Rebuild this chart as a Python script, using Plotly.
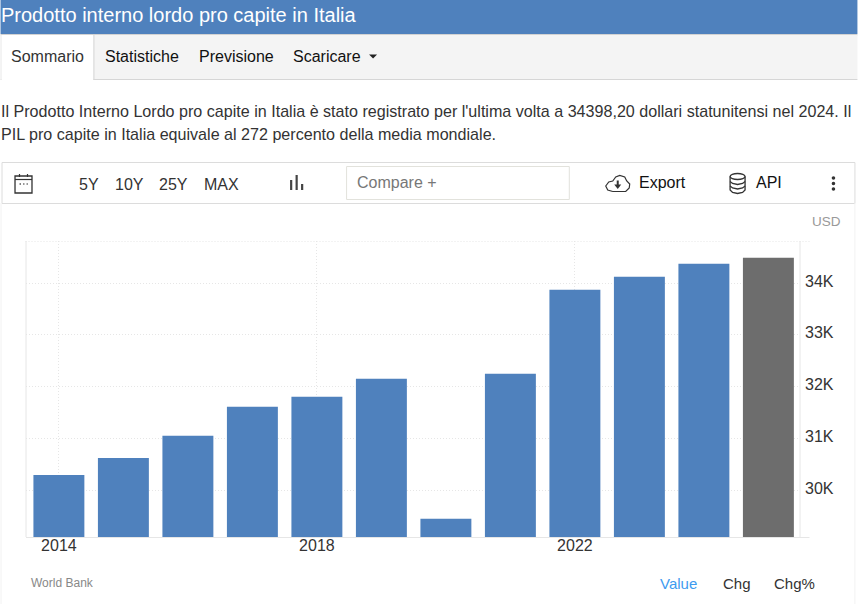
import plotly.graph_objects as go

W, H = 858, 604
L, R, T, B = 25.5, 800.5, 241, 537

years = [2014, 2015, 2016, 2017, 2018, 2019, 2020, 2021, 2022, 2023, 2024, 2025]
values = [30296, 30624, 31050, 31610, 31803, 32150, 29450, 32247, 33870, 34122, 34373, 34489]
y_ticks = [30000, 31000, 32000, 33000, 34000]
y_labels = ["30K", "31K", "32K", "33K", "34K"]
x_ticks = [2014, 2018, 2022]

BLUE = "#4f81bd"
GREY = "#6d6d6d"
LINE = "#e6e6e6"
FONT = "Liberation Sans"
DOT = "1px,2px"


# paper coordinates are relative to the plot area, so convert from page pixels
def px(x):
    return (x - L) / (R - L)


def py(y):
    return (B - y) / (B - T)


def rect(x0, y0, x1, y1, fill=None, line=None, width=1):
    return dict(type="rect", xref="paper", yref="paper", x0=px(x0), x1=px(x1), y0=py(y0), y1=py(y1),
                fillcolor=fill or "rgba(0,0,0,0)", line=dict(color=line or "rgba(0,0,0,0)", width=width if line else 0),
                layer="below")


def seg(x0, y0, x1, y1, color, width=1, layer="above", dash="solid"):
    return dict(type="line", xref="paper", yref="paper", x0=px(x0), x1=px(x1), y0=py(y0), y1=py(y1),
                line=dict(color=color, width=width, dash=dash), layer=layer)


def circle(cx, cy, rx, ry, fill=None, line=None, width=1.3):
    return dict(type="circle", xref="paper", yref="paper", x0=px(cx - rx), x1=px(cx + rx), y0=py(cy - ry), y1=py(cy + ry),
                fillcolor=fill or "rgba(0,0,0,0)", line=dict(color=line or "rgba(0,0,0,0)", width=width if line else 0))


def path(points, fill=None, line=None, width=1.3, close=False):
    d = " ".join(("M" if i == 0 else "L") + " %.5f %.5f" % (px(x), py(y)) for i, (x, y) in enumerate(points))
    if close:
        d += " Z"
    return dict(type="path", xref="paper", yref="paper", path=d,
                fillcolor=fill or "rgba(0,0,0,0)", line=dict(color=line or "rgba(0,0,0,0)", width=width if line else 0))


def label(x, y, text, size, color="#333333", anchor="left"):
    # annotations sit slightly right of and below the asked position
    return dict(xref="paper", yref="paper", x=px(max(x - 0.5, 0)), y=py(y - 0.5), text=text, showarrow=False,
                xanchor=anchor, yanchor="middle", align="left", font=dict(family=FONT, size=size, color=color),
                borderpad=0, borderwidth=0)


shapes = [
    # header and tab strip
    rect(0, 0, W, 34, fill=BLUE),
    rect(0, 34, W, 35.5, fill="#d2d2d2"),
    rect(0, 35, W, 79, fill="#f4f4f4"),
    rect(0, 79, W, 80, fill="#d6d6d6"),
    rect(1, 35, 93, 80, fill="#ffffff"),
    seg(93.5, 35, 93.5, 80, "#d6d6d6", layer="below"),
    seg(0.5, 35, 0.5, 80, "#eeeeee", layer="below"),
    # toolbar
    rect(1.5, 162.5, 855.5, 203.5, line="#dcdcdc"),
    rect(346.5, 166.5, 569.5, 199.5, line="#e2e2dc"),
    seg(0.5, 203, 0.5, H, "#f2f2f2", layer="below"),
    seg(855.5, 203, 855.5, H, "#f2f2f2", layer="below"),
    # axis frame
    seg(800.5, 241, 800.5, 537, LINE, layer="below"),
    seg(25.5, 537.5, 810, 537.5, LINE, layer="below"),
    seg(25.5, 241, 25.5, 537, LINE, layer="below"),
    seg(25, 241.5, 810, 241.5, LINE, layer="below", dash=DOT),
    # caret
    path([(369, 54.5), (377, 54.5), (373, 58.5)], fill="#222222", close=True),
    # calendar icon
    rect(14.5, 176, 31.5, 193, line="#333333", width=1.3),
    seg(14.5, 179.5, 31.5, 179.5, "#333333", 1.2),
    seg(19, 174, 19, 177, "#333333", 1.2),
    seg(27, 174, 27, 177, "#333333", 1.2),
    seg(19, 184, 20.5, 184, "#333333", 1.2),
    seg(22.5, 184, 24, 184, "#333333", 1.2),
    seg(26, 184, 27.5, 184, "#333333", 1.2),
    # bar icon
    seg(291, 180, 291, 190, "#444444", 2.2),
    seg(296.5, 175, 296.5, 190, "#444444", 2.2),
    seg(302, 184, 302, 190, "#444444", 2.2),
    # cloud icon
    path([(613, 191.5), (608, 190), (606, 186), (609, 182), (613, 181), (616, 177), (620, 175.5), (625, 177),
          (627, 181), (630, 184), (629.5, 188), (626, 191.5), (613, 191.5)], line="#333333", width=1.2),
    path([(614.5, 184.5), (621.5, 184.5), (618, 189)], fill="#333333", close=True),
    seg(618, 180.5, 618, 185, "#333333", 2),
    # database icon
    circle(738, 176.5, 7.5, 3, line="#333333"),
    path([(730.5, 176.5), (730.5, 190), (733, 192.5), (738, 193.5), (743, 192.5), (745.5, 190), (745.5, 176.5)],
         line="#333333"),
    path([(730.5, 181.5), (733, 183.5), (738, 184.5), (743, 183.5), (745.5, 181.5)], line="#333333"),
    path([(730.5, 186), (733, 188), (738, 189), (743, 188), (745.5, 186)], line="#333333"),
    # kebab menu
    circle(834, 178, 1.8, 1.8, fill="#333333"),
    circle(834, 183.5, 1.8, 1.8, fill="#333333"),
    circle(834, 189, 1.8, 1.8, fill="#333333"),
]

annotations = [
    label(0, 15.5, "Prodotto interno lordo pro capite in Italia", 20, "#ffffff"),
    label(11, 56.5, "Sommario", 16, "#333333"),
    label(105, 56.5, "Statistiche", 16, "#111111"),
    label(199, 56.5, "Previsione", 16, "#111111"),
    label(293, 56.5, "Scaricare", 16, "#111111"),
    label(0, 111.5, "Il Prodotto Interno Lordo pro capite in Italia è stato registrato per l'ultima volta a 34398,20 dollari statunitensi nel 2024. Il", 16.1, "#333333"),
    label(0, 134.5, "PIL pro capite in Italia equivale al 272 percento della media mondiale.", 16.1, "#333333"),
    label(79, 184.5, "5Y", 16, "#333333"),
    label(115, 184.5, "10Y", 16, "#333333"),
    label(159, 184.5, "25Y", 16, "#333333"),
    label(204, 184.5, "MAX", 16, "#333333"),
    label(357, 183, "Compare +", 16, "#777777"),
    label(640, 183.5, "Export", 16, "#111111"),
    label(757, 183.5, "API", 16, "#111111"),
    label(813.5, 222, "USD", 13.5, "#999999"),
    label(31, 583.5, "World Bank", 12, "#888888"),
    label(661, 584, "Value", 15, "#3d9bf0"),
    label(724, 584, "Chg", 15, "#333333"),
    label(775, 584, "Chg%", 15, "#333333"),
]

colors = [BLUE] * (len(years) - 1) + [GREY]

fig = go.Figure(go.Bar(x=years, y=values, marker=dict(color=colors, line=dict(width=0)), width=0.79))

fig.update_layout(
    width=W,
    height=H,
    margin=dict(l=L, r=W - R, t=T, b=H - B),
    paper_bgcolor="#ffffff",
    plot_bgcolor="#ffffff",
    showlegend=False,
    shapes=shapes,
    annotations=annotations,
    font=dict(family=FONT, color="#333333"),
)
fig.update_xaxes(
    range=[2013.49, 2025.49],
    tickmode="array",
    tickvals=x_ticks,
    ticktext=[str(t) for t in x_ticks],
    tickfont=dict(size=16, color="#333333"),
    ticklen=0,
    ticklabelstandoff=-3,
    showline=False,
    zeroline=False,
    showgrid=True,
    gridcolor=LINE,
    griddash=DOT,
    gridwidth=1,
)
fig.update_yaxes(
    side="right",
    range=[29098, 34811],
    tickmode="array",
    tickvals=y_ticks,
    ticktext=y_labels,
    tickfont=dict(size=16, color="#333333"),
    ticklen=0,
    ticklabelstandoff=4,
    ticklabelshift=-2,
    showline=False,
    zeroline=False,
    showgrid=True,
    gridcolor=LINE,
    griddash=DOT,
    gridwidth=1,
)

fig.write_html("out.html", config=dict(displayModeBar=False),
               post_script="document.body.style.margin='0';")
